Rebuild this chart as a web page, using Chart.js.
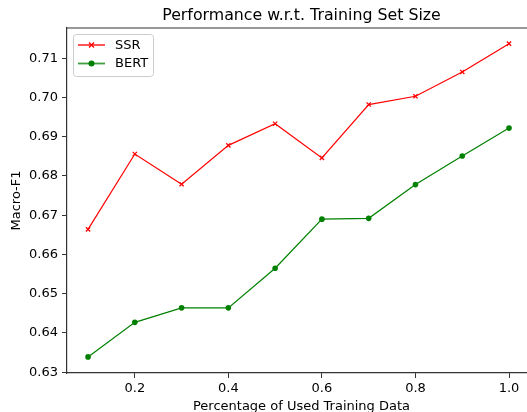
<!DOCTYPE html>
<html>
<head>
<meta charset="utf-8">
<script src="https://cdn.jsdelivr.net/npm/chart.js@4/dist/chart.umd.min.js"></script>
<style>
  html, body { margin: 0; padding: 0; background: #fff; overflow: hidden; }
  #wrap { width: 527px; height: 412px; overflow: hidden; position: relative; }
  #box { width: 550px; height: 412px; position: absolute; left: 0; top: 0; }
</style>
</head>
<body>
<div id="wrap"><div id="box"><canvas id="c"></canvas></div></div>
<script>
const xValues = [0.1, 0.2, 0.3, 0.4, 0.5, 0.6, 0.7, 0.8, 0.9, 1.0];
const ssrValues = [0.6664, 0.6856, 0.6779, 0.6878, 0.6933, 0.6846, 0.6982, 0.7003, 0.7065, 0.7137];
const bertValues = [0.6339, 0.6427, 0.6464, 0.6464, 0.6565, 0.6690, 0.6692, 0.6778, 0.6851, 0.6922];
const xTicks = [0.2, 0.4, 0.6, 0.8, 1.0];
const yTicks = [0.63, 0.64, 0.65, 0.66, 0.67, 0.68, 0.69, 0.70, 0.71];
const seriesNames = ['SSR', 'BERT'];
const titleText = 'Performance w.r.t. Training Set Size';
const xTitle = 'Percentage of Used Training Data';
const yTitle = 'Macro-F1';

const FONT = "'DejaVu Sans', sans-serif";

const legendPlugin = {
  id: 'mplLegend',
  afterDraw(chart) {
    const ctx = chart.ctx;
    const x0 = 73.5, y0 = 34.5, w = 80, h = 42, r = 3;
    ctx.save();
    ctx.beginPath();
    ctx.moveTo(x0 + r, y0);
    ctx.arcTo(x0 + w, y0, x0 + w, y0 + h, r);
    ctx.arcTo(x0 + w, y0 + h, x0, y0 + h, r);
    ctx.arcTo(x0, y0 + h, x0, y0, r);
    ctx.arcTo(x0, y0, x0 + w, y0, r);
    ctx.closePath();
    ctx.fillStyle = 'rgba(255,255,255,0.8)';
    ctx.fill();
    ctx.strokeStyle = '#cccccc';
    ctx.lineWidth = 1;
    ctx.stroke();
    chart.data.datasets.forEach((ds, i) => {
      const y = 45 + i * 18.5;
      ctx.globalAlpha = 0.75;
      ctx.strokeStyle = ds.borderColor;
      ctx.lineWidth = 1.8;
      ctx.beginPath();
      ctx.moveTo(78, y);
      ctx.lineTo(105, y);
      ctx.stroke();
      ctx.globalAlpha = 1;
      const cx = 91.5;
      if (ds.pointStyle === 'crossRot') {
        ctx.lineWidth = 1.3;
        ctx.beginPath();
        ctx.moveTo(cx - 2.5, y - 2.5); ctx.lineTo(cx + 2.5, y + 2.5);
        ctx.moveTo(cx + 2.5, y - 2.5); ctx.lineTo(cx - 2.5, y + 2.5);
        ctx.stroke();
      } else {
        ctx.fillStyle = ds.borderColor;
        ctx.beginPath();
        ctx.arc(cx, y, 3, 0, Math.PI * 2);
        ctx.fill();
      }
      ctx.fillStyle = '#000';
      ctx.font = '13px ' + FONT;
      ctx.textBaseline = 'middle';
      ctx.textAlign = 'left';
      ctx.fillText(ds.label, 115, y + 0.5);
    });
    ctx.restore();
  }
};

const frameColor = '#333333';

new Chart(document.getElementById('c'), {
  type: 'line',
  data: {
    datasets: [
      {
        label: seriesNames[0],
        data: xValues.map((x, i) => ({ x: x, y: ssrValues[i] })),
        borderColor: '#ff0000',
        backgroundColor: '#ff0000',
        borderWidth: 1.2,
        pointStyle: 'crossRot',
        pointRadius: 3,
        pointBorderWidth: 1.3,
        tension: 0
      },
      {
        label: seriesNames[1],
        data: xValues.map((x, i) => ({ x: x, y: bertValues[i] })),
        borderColor: '#008000',
        backgroundColor: '#008000',
        borderWidth: 1.2,
        pointStyle: 'circle',
        pointRadius: 2.8,
        pointBorderWidth: 0,
        tension: 0
      }
    ]
  },
  options: {
    responsive: true,
    maintainAspectRatio: false,
    animation: false,
    layout: { padding: { left: 0, right: 14, top: 0, bottom: 0 } },
    plugins: {
      legend: { display: false },
      tooltip: { enabled: false },
      title: {
        display: true,
        fullSize: false,
        text: titleText,
        color: '#000',
        font: { family: FONT, size: 15.8, weight: 'normal' },
        padding: { top: 6, bottom: 3.04 }
      }
    },
    scales: {
      x: {
        type: 'linear',
        min: 0.055,
        max: 1.0577,
        afterBuildTicks(scale) { scale.ticks = xTicks.map(v => ({ value: v })); },
        afterFit(scale) { scale.height = 39; },
        ticks: {
          color: '#000',
          font: { family: FONT, size: 13 },
          padding: 3,
          maxRotation: 0,
          callback: v => Number(v).toFixed(1)
        },
        grid: { display: true, drawOnChartArea: false, drawTicks: true, tickLength: 5, tickColor: frameColor, tickWidth: 1 },
        border: { display: true, color: frameColor, width: 1.2 },
        title: { display: true, text: xTitle, color: '#000', font: { family: FONT, size: 13 }, padding: { top: 0, bottom: -2 } }
      },
      y: {
        type: 'linear',
        min: 0.6298,
        max: 0.7177,
        afterBuildTicks(scale) { scale.ticks = yTicks.map(v => ({ value: v })); },
        afterFit(scale) { scale.width = 67; },
        ticks: {
          color: '#000',
          font: { family: FONT, size: 13 },
          padding: 4,
          callback: v => Number(v).toFixed(2)
        },
        grid: { display: true, drawOnChartArea: false, drawTicks: true, tickLength: 5, tickColor: frameColor, tickWidth: 1 },
        border: { display: true, color: frameColor, width: 1.2 },
        title: { display: true, text: yTitle, color: '#000', font: { family: FONT, size: 13 }, padding: { top: 8.5, bottom: 0 } }
      }
    }
  },
  plugins: [
    {
      id: 'frame',
      afterDatasetsDraw(chart) {
        const a = chart.chartArea, ctx = chart.ctx;
        ctx.save();
        ctx.strokeStyle = frameColor;
        ctx.lineWidth = 1.2;
        ctx.beginPath();
        ctx.moveTo(a.left, a.top); ctx.lineTo(a.right, a.top);
        ctx.moveTo(a.right, a.top); ctx.lineTo(a.right, a.bottom);
        ctx.stroke();
        ctx.restore();
      }
    },
    legendPlugin
  ]
});
</script>
</body>
</html>
